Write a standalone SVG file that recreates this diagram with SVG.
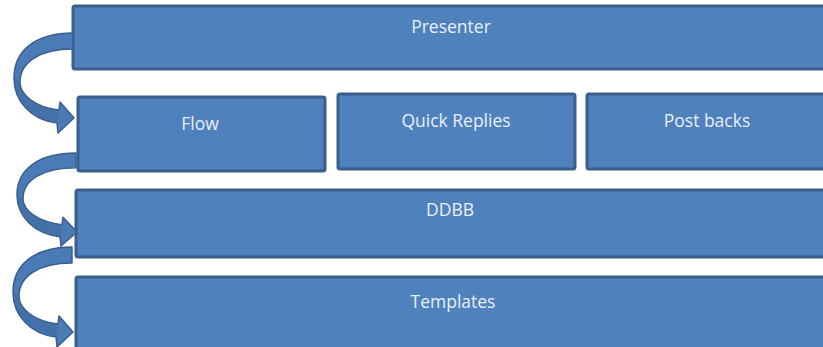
<svg xmlns="http://www.w3.org/2000/svg" width="823" height="347" viewBox="0 0 823 347">
<style>
.box{fill:#4f81bd;stroke:#3a5f8c;stroke-width:3}
.lbl{font-family:"Open Sans","Liberation Sans",sans-serif;font-size:17.5px;fill:#e9eff8;text-anchor:middle}
.arr{fill:#4a7bb7;stroke:#3a5f8c;stroke-width:1.5;stroke-linejoin:round}
.shade{fill:#3d6798}
</style>
<defs>
<g id="curved">
<path class="arr" d="M0 0 C-38 0 -59 18 -59 45 C-59 68 -42 87 -16 90 L-15 100 L1 85 L-13 69 L-14 77 C-38 74 -53 62 -53 49 C-53 29 -33 16 0 16 Z"/>
<path class="shade" d="M-59 45 C-59 68 -42 87 -16 90 L-14 77 C-38 74 -53 62 -53 49 Z" opacity="0.5"/>
</g>
</defs>
<rect width="823" height="347" fill="#ffffff"/>
<g id="presenter"><rect class="box" x="73" y="6" width="760" height="63" rx="2"/><text class="lbl" x="451" y="33">Presenter</text></g>
<g id="flow"><rect class="box" x="78" y="97" width="247" height="74" rx="2"/><text class="lbl" x="200" y="130">Flow</text></g>
<g id="quick-replies"><rect class="box" x="338" y="94" width="237" height="75" rx="2"/><text class="lbl" x="456" y="127">Quick Replies</text></g>
<g id="post-backs"><rect class="box" x="587" y="94" width="246" height="75" rx="2"/><text class="lbl" x="707" y="127">Post backs</text></g>
<g id="ddbb"><rect class="box" x="76" y="190" width="757" height="67" rx="2"/><text class="lbl" x="450" y="216">DDBB</text></g>
<g id="templates"><rect class="box" x="76" y="277" width="757" height="72" rx="2"/><text class="lbl" x="453" y="308">Templates</text></g>
<g id="connectors">
<use href="#curved" transform="translate(73,33)"/>
<use href="#curved" transform="translate(76,153) scale(1,0.93)"/>
<use href="#curved" transform="translate(72,247)"/>
</g>
</svg>
